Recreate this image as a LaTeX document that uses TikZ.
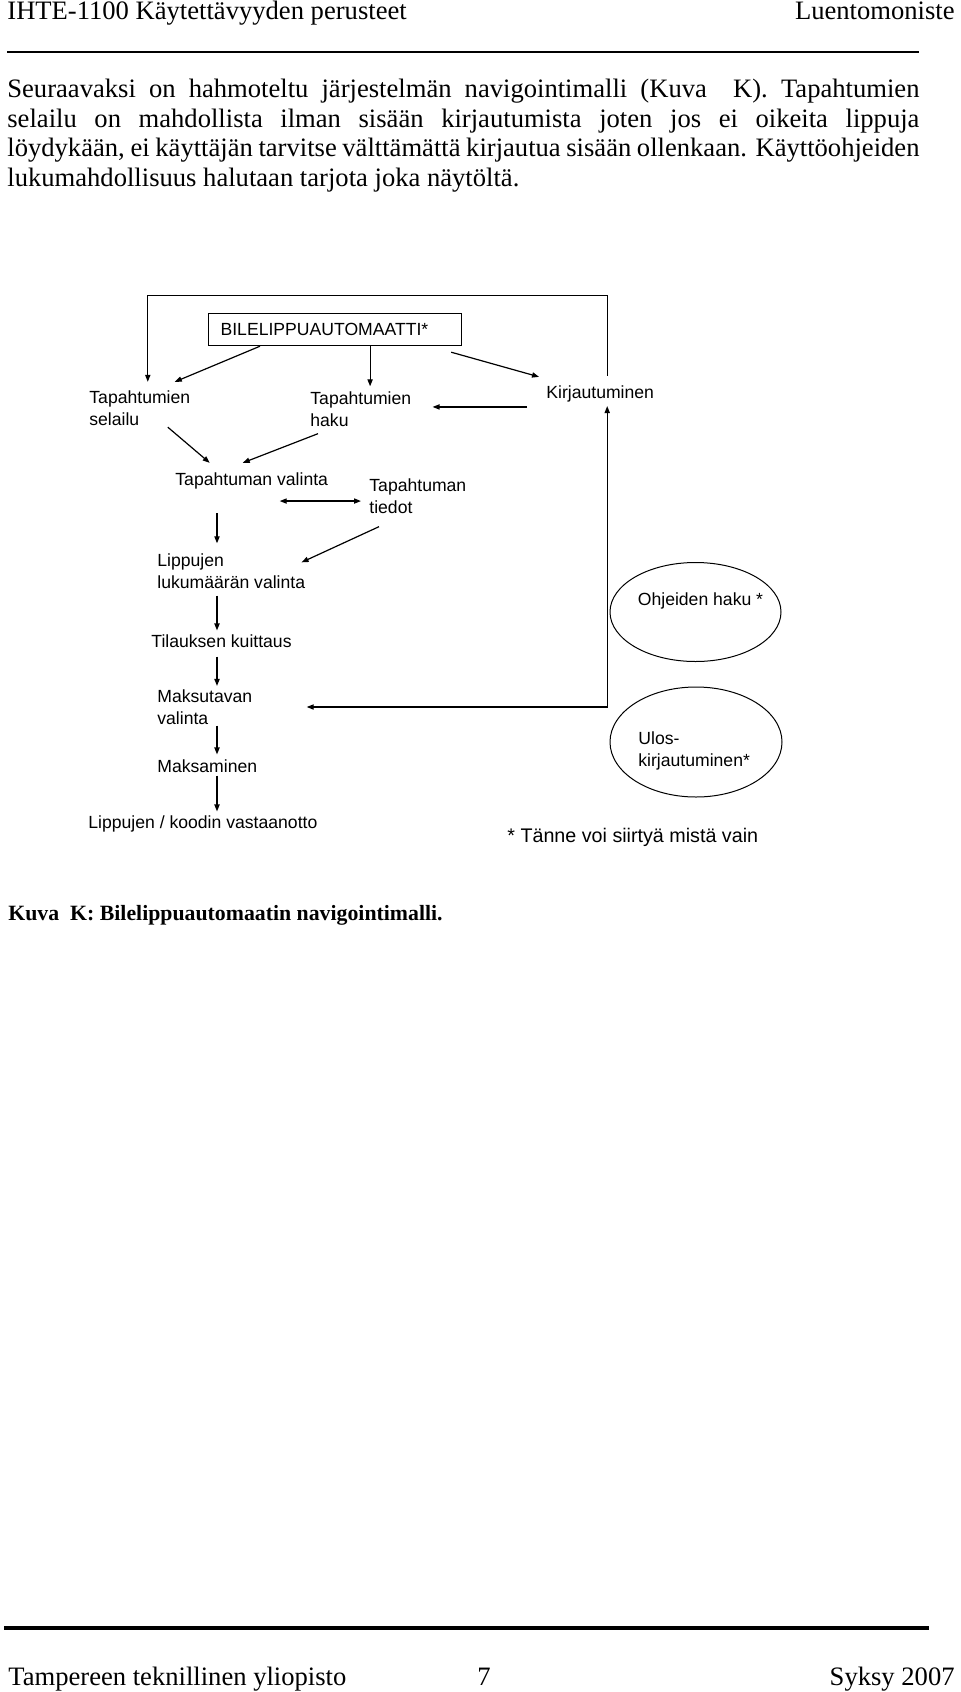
\documentclass[tikz,border=0pt]{standalone}
\usepackage{fontspec}
\setmainfont{Liberation Serif}
\setsansfont{Liberation Sans}
\usetikzlibrary{arrows.meta,shapes.geometric}
\newcommand\lblfont{\sffamily\fontsize{8.8}{10.8}\selectfont}
\newcommand\serfont{\rmfamily\fontsize{13.3}{14.8}\selectfont}
\tikzset{
  lbl/.style={font=\lblfont, inner sep=0pt, align=left},
  serif/.style={font=\serfont, inner sep=0pt},
  arr/.style={-{Triangle[length=3.5pt,width=2.6pt]}, line width=0.6pt},
  dbl/.style={{Triangle[length=3.5pt,width=2.6pt]}-{Triangle[length=3.5pt,width=2.6pt]}, line width=0.6pt},
  ell/.style={draw, ellipse, line width=0.5pt, inner sep=0pt},
  boxst/.style={draw, line width=0.6pt, font=\lblfont, align=left, inner xsep=6pt, inner ysep=0pt}
}
\begin{document}
\begin{tikzpicture}[x=0.5pt,y=-0.5pt]
\path[fill=white,use as bounding box] (0,0) rectangle (960,1692);

% header
\node[serif, anchor=base west] (hdrl) at (7,19) {IHTE-1100 Käytettävyyden perusteet};
\node[serif, anchor=base east] (hdrr) at (955,19) {Luentomoniste};
\draw[line width=0.6pt] (7,52) -- (919,52);

% paragraph
\node[serif, anchor=base west] (p1) at (7,97) {\makebox[456pt][s]{Seuraavaksi on hahmoteltu järjestelmän navigointimalli (Kuva\ \ K). Tapahtumien}};
\node[serif, anchor=base west] (p2) at (7,127) {\makebox[456pt][s]{selailu on mahdollista ilman sisään kirjautumista joten jos ei oikeita lippuja}};
\node[serif, anchor=base west] (p3) at (7,156) {\makebox[456pt][s]{löydykään, ei käyttäjän tarvitse välttämättä kirjautua sisään ollenkaan. Käyttöohjeiden}};
\node[serif, anchor=base west] (p4) at (7,186) {lukumahdollisuus halutaan tarjota joka näytöltä.};

% diagram nodes
\node[boxst, anchor=north west, minimum width=126.5pt, minimum height=16pt, text width=114.5pt] (box) at (208,313) {BILELIPPUAUTOMAATTI*};
\node[lbl, anchor=west] (selailu) at (89,408.5) {Tapahtumien\\selailu};
\node[lbl, anchor=west] (haku) at (310,409) {Tapahtumien\\haku};
\node[lbl, anchor=base west] (kirj) at (546,398) {Kirjautuminen};
\node[lbl, anchor=base west] (valinta) at (175,485) {Tapahtuman valinta};
\node[lbl, anchor=west] (tiedot) at (369,496) {Tapahtuman\\tiedot};
\node[lbl, anchor=west] (lukum) at (157,571) {Lippujen\\lukumäärän valinta};
\node[lbl, anchor=base west] (tilaus) at (151,647) {Tilauksen kuittaus};
\node[lbl, anchor=west] (maksutapa) at (157,707) {Maksutavan\\valinta};
\node[lbl, anchor=base west] (maksu) at (157,772) {Maksaminen};
\node[lbl, anchor=base west] (vastaan) at (88,828) {Lippujen / koodin vastaanotto};

\node[ell, minimum width=85.5pt, minimum height=49.5pt] (ohje) at (695.5,612) {};
\node[lbl, anchor=base] (ohjet) at ([shift={(5,-6.7)}]ohje.center) {Ohjeiden haku *};
\node[ell, minimum width=86pt, minimum height=55pt] (ulos) at (696,742) {};
\node[lbl, anchor=west] (ulost) at ([shift={(-58,9)}]ulos.center) {Ulos-\\kirjautuminen*};

\node[font=\sffamily\fontsize{9.85}{12}\selectfont, inner sep=0pt, anchor=base west] (note) at (507,842) {* Tänne voi siirtyä mistä vain};

% connectors
\draw[arr] ([shift={(7,-9)}]kirj.north) -- ++(0,-80) -| ([shift={(8,-9)}]selailu.north);
\draw[arr] ([shift={(52,0)}]box.south west) -- ([shift={(35,-9)}]selailu.north);
\coordinate (bh) at ([shift={(35,0)}]box.south);
\draw[arr, shorten >=2.5pt] (bh) -- (bh |- haku.north);
\draw[arr] ([shift={(-11,6)}]box.south east) -- ([shift={(-7,-8)}]kirj.north west);
\coordinate (kh) at ([shift={(-19,13.5)}]kirj.west);
\draw[arr, shorten >=10.5pt] (kh) -- (kh -| haku.east);
\draw[arr] ([shift={(28,1)}]selailu.south) -- ([shift={(-42,-9)}]valinta.north);
\draw[arr] ([shift={(8,7)}]haku.south west) -- ([shift={(-9,-9)}]valinta.north);
\coordinate (dv) at ([shift={(28,12)}]valinta.south);
\draw[dbl, shorten >=4pt] (dv) -- (dv -| tiedot.west);
\draw[arr] ([shift={(10,13)}]tiedot.south west) -- ([shift={(-4,9)}]lukum.north east);

\coordinate (col) at (217,0);
\draw[arr, shorten <=12pt, shorten >=5pt] (col |- valinta.south) -- (col |- lukum.north);
\draw[arr, shorten <=3.5pt, shorten >=1.7pt] (col |- lukum.south) -- (col |- tilaus.north);
\draw[arr, shorten <=4.5pt, shorten >=1.7pt] (col |- tilaus.south) -- (col |- maksutapa.north);
\draw[arr, shorten <=0.5pt, shorten >=2.2pt] (col |- maksutapa.south) -- (col |- maksu.north);
\draw[arr, shorten <=1.5pt, shorten >=1.7pt] (col |- maksu.south) -- (col |- vastaan.north);

\coordinate (mt) at ([shift={(54,0)}]maksutapa.east);
\draw[dbl] (mt) -| ([shift={(7,4)}]kirj.south);

% caption
\node[font=\rmfamily\bfseries\fontsize{10.9}{12.5}\selectfont, inner sep=0pt, anchor=base west] (cap) at (8,920) {Kuva\ \ K: Bilelippuautomaatin navigointimalli.};

% footer
\draw[line width=2pt] (4,1628) -- (929,1628);
\node[serif, anchor=base west] (ftl) at (8,1685) {Tampereen teknillinen yliopisto};
\node[serif, anchor=base west] (ftm) at (477,1685) {7};
\node[serif, anchor=base east] (ftr) at (955,1685) {Syksy 2007};
\end{tikzpicture}
\end{document}
